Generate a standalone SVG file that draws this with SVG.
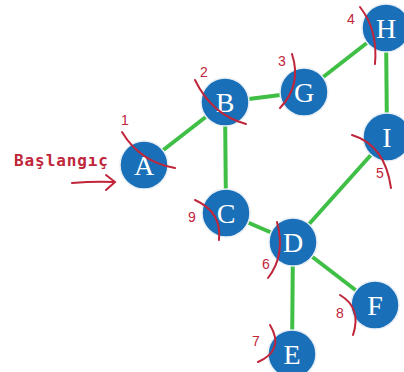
<svg xmlns="http://www.w3.org/2000/svg" width="404" height="372" viewBox="0 0 404 372">
<style>
.edge{stroke:#3fbf45;stroke-width:4;fill:none}
.node circle{fill:#1a70b8;stroke:#e8eef5;stroke-width:1.5}
.node text{fill:#fff;font-family:"Liberation Serif","DejaVu Serif",serif;font-size:28px;text-anchor:middle}
.mark{stroke:#c0253a;stroke-width:2;fill:none;stroke-linecap:round}
.num{fill:#c0253a;font-family:"Liberation Sans","DejaVu Sans",sans-serif;font-size:14px;text-anchor:middle}
</style>
<rect width="404" height="372" fill="#fff"/>
<g id="connectors">
<line class="edge" x1="144" y1="165" x2="225" y2="102"/>
<line class="edge" x1="225" y1="102" x2="304" y2="92"/>
<line class="edge" x1="304" y1="92" x2="386" y2="28"/>
<line class="edge" x1="386" y1="28" x2="387" y2="137"/>
<line class="edge" x1="387" y1="137" x2="293" y2="242"/>
<line class="edge" x1="225" y1="102" x2="226" y2="213"/>
<line class="edge" x1="226" y1="213" x2="293" y2="242"/>
<line class="edge" x1="293" y1="242" x2="375" y2="305"/>
<line class="edge" x1="293" y1="242" x2="292" y2="354"/>
</g>
<g id="node-A" class="node"><circle cx="144" cy="165" r="24"/><text x="144" y="175">A</text></g>
<g id="node-B" class="node"><circle cx="225" cy="102" r="24"/><text x="225" y="112">B</text></g>
<g id="node-G" class="node"><circle cx="304" cy="92" r="24"/><text x="304" y="102">G</text></g>
<g id="node-H" class="node"><circle cx="386" cy="28" r="24"/><text x="386" y="38">H</text></g>
<g id="node-I" class="node"><circle cx="387" cy="137" r="24"/><text x="387" y="147">I</text></g>
<g id="node-C" class="node"><circle cx="226" cy="213" r="24"/><text x="226" y="223">C</text></g>
<g id="node-D" class="node"><circle cx="293" cy="242" r="24"/><text x="293" y="252">D</text></g>
<g id="node-F" class="node"><circle cx="375" cy="305" r="24"/><text x="375" y="315">F</text></g>
<g id="node-E" class="node"><circle cx="292" cy="354" r="24"/><text x="292" y="364">E</text></g>
<g id="annotations">
<text x="14" y="166" fill="#c0253a" font-family="DejaVu Sans Mono,Liberation Mono,monospace" font-weight="bold" font-size="16" textLength="94">Başlangıç</text>
<path class="mark" d="M72 183 Q95 181 114 182"/>
<path class="mark" d="M106 175 L115 182 L106 190"/>
<path class="mark" d="M122 132 Q140 162 175 168"/>
<text class="num" x="125" y="125">1</text>
<path class="mark" d="M195 80 Q212 115 246 124"/>
<text class="num" x="204" y="77">2</text>
<path class="mark" d="M292 54 Q302 85 280 108"/>
<text class="num" x="282" y="66">3</text>
<path class="mark" d="M360 7 Q378 30 375 64"/>
<text class="num" x="351" y="24">4</text>
<path class="mark" d="M352 135 Q385 145 391 188"/>
<text class="num" x="380" y="178">5</text>
<path class="mark" d="M277 222 Q286 255 268 278"/>
<text class="num" x="266" y="269">6</text>
<path class="mark" d="M270 325 Q285 350 258 362"/>
<text class="num" x="256" y="346">7</text>
<path class="mark" d="M340 295 Q362 308 353 335"/>
<text class="num" x="340" y="318">8</text>
<path class="mark" d="M195 200 Q222 212 219 240"/>
<text class="num" x="192" y="222">9</text>
</g>
</svg>
